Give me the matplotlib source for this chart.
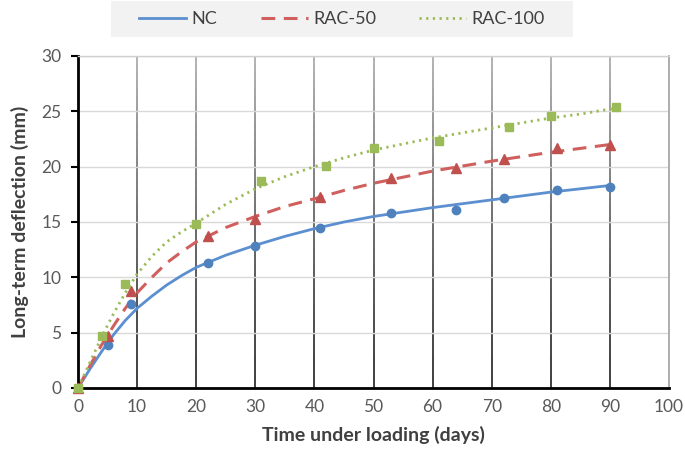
import numpy as np
import matplotlib.pyplot as plt
from matplotlib.collections import LineCollection
from matplotlib.patches import Rectangle

plt.rcParams['font.family'] = ['Lato', 'DejaVu Sans']

# measured deflections (markers)
nc_days = [0, 5, 9, 22, 30, 41, 53, 64, 72, 81, 90]
nc_defl = [0, 3.9, 7.6, 11.3, 12.8, 14.5, 15.8, 16.1, 17.2, 17.9, 18.2]
rac50_days = [0, 5, 9, 22, 30, 41, 53, 64, 72, 81, 90]
rac50_defl = [0, 4.7, 8.8, 13.7, 15.3, 17.3, 19.0, 19.9, 20.7, 21.7, 22.0]
rac100_days = [0, 4, 8, 20, 31, 42, 50, 61, 73, 80, 91]
rac100_defl = [0, 4.7, 9.4, 14.8, 18.7, 20.1, 21.7, 22.3, 23.6, 24.6, 25.4]

# fitted trend curves
fit_days = [0, 2, 4, 6, 8, 10, 12.5, 15, 17.5, 20, 25, 30, 35, 40, 45, 50, 55, 60, 65, 70, 75, 80, 85, 90]
nc_fit = [0, 1.7, 3.3, 4.8, 6.1, 7.2, 8.3, 9.3, 10.15, 10.9, 12.0, 12.9, 13.7, 14.4, 15.0, 15.5, 15.9,
          16.3, 16.65, 17.0, 17.35, 17.7, 18.0, 18.3]
rac50_fit = [0, 2.0, 3.9, 5.6, 7.2, 8.6, 10.0, 11.3, 12.3, 13.2, 14.5, 15.5, 16.4, 17.1, 17.85, 18.5,
             19.05, 19.6, 20.05, 20.5, 20.9, 21.3, 21.65, 22.0]
fit100_days = [0, 2, 4, 6, 8, 10, 12.5, 15, 17.5, 20, 25, 30, 35, 40, 45, 50, 55, 60, 65, 70, 75, 80, 85, 91]
rac100_fit = [0, 2.3, 4.6, 6.7, 8.6, 10.3, 11.9, 13.2, 14.1, 14.9, 16.6, 18.0, 19.1, 20.0, 20.8, 21.5,
              22.05, 22.6, 23.05, 23.5, 23.95, 24.4, 24.75, 25.3]

x_ticks = list(range(0, 101, 10))
y_ticks = list(range(0, 31, 5))

fig = plt.figure(figsize=(6.85, 4.58), dpi=100)
ax = fig.add_axes([78/685, 1 - 388/458, 591/685, 332/458])

# gridlines: light horizontal, vertical ones darkening toward the bottom
ax.set_axisbelow(True)
ax.yaxis.grid(True, color='#d9d9d9', lw=1)
n = 40
ys = np.linspace(0, 30, n + 1)
segs, cols = [], []
for xv in x_ticks[1:-1]:
    for i in range(n):
        segs.append([(xv, ys[i]), (xv, ys[i + 1])])
        g = 0.12 + 0.55 * (i / n) ** 1.3
        cols.append((g, g, g))
ax.add_collection(LineCollection(segs, colors=cols, linewidths=1.2, zorder=0.5))

# curves
ax.plot(fit_days, nc_fit, color='#5b8fd0', lw=2, label='NC', zorder=2)
ax.plot(fit_days, rac50_fit, color='#d0605e', lw=2.2, dashes=(4.5, 2.8), label='RAC-50', zorder=2)
ax.plot(fit100_days, rac100_fit, color='#9bbb59', lw=2, dashes=(0.8, 1.6), label='RAC-100', zorder=2)

# markers
ax.plot(nc_days, nc_defl, 'o', color='#4f81bd', ms=6, ls='none', clip_on=False, zorder=3)
ax.plot(rac50_days, rac50_defl, '^', color='#c0504d', ms=7, ls='none', clip_on=False, zorder=3)
ax.plot(rac100_days, rac100_defl, 's', color='#9bbb59', ms=6, ls='none', clip_on=False, zorder=4)

ax.set_xlim(0, 100)
ax.set_ylim(0, 30)
ax.set_xticks(x_ticks)
ax.set_yticks(y_ticks)

ax.spines['left'].set_color('black')
ax.spines['left'].set_linewidth(2)
ax.spines['bottom'].set_color('black')
ax.spines['bottom'].set_linewidth(2)
ax.spines['top'].set_color('#d0d0d0')
ax.spines['top'].set_linewidth(1)
ax.spines['right'].set_color('#a0a0a0')
ax.spines['right'].set_linewidth(1.2)

ax.tick_params(axis='y', direction='out', length=5, width=1.5, color='black',
               labelsize=12.5, labelcolor='#595959', pad=7)
ax.tick_params(axis='x', length=0, labelsize=12.5, labelcolor='#595959', pad=8)

ax.set_xlabel('Time under loading (days)', fontsize=14, fontweight='bold',
              color='#404040', labelpad=8)
ax.set_ylabel('Long-term deflection (mm)', fontsize=14, fontweight='bold',
              color='#404040', labelpad=9)

# legend band at the top
fig.patches.append(Rectangle((111/685, 1 - 37/458), 462/685, 36/458,
                             transform=fig.transFigure, facecolor='#f2f2f2',
                             edgecolor='none', zorder=0))
fig.legend(loc='center', bbox_to_anchor=(342/685, 1 - 19/458), ncol=3,
           frameon=False, fontsize=13, labelcolor='#404040',
           handlelength=2.6, handletextpad=0.3, columnspacing=2.4)

fig.savefig('out.png', dpi=100)
